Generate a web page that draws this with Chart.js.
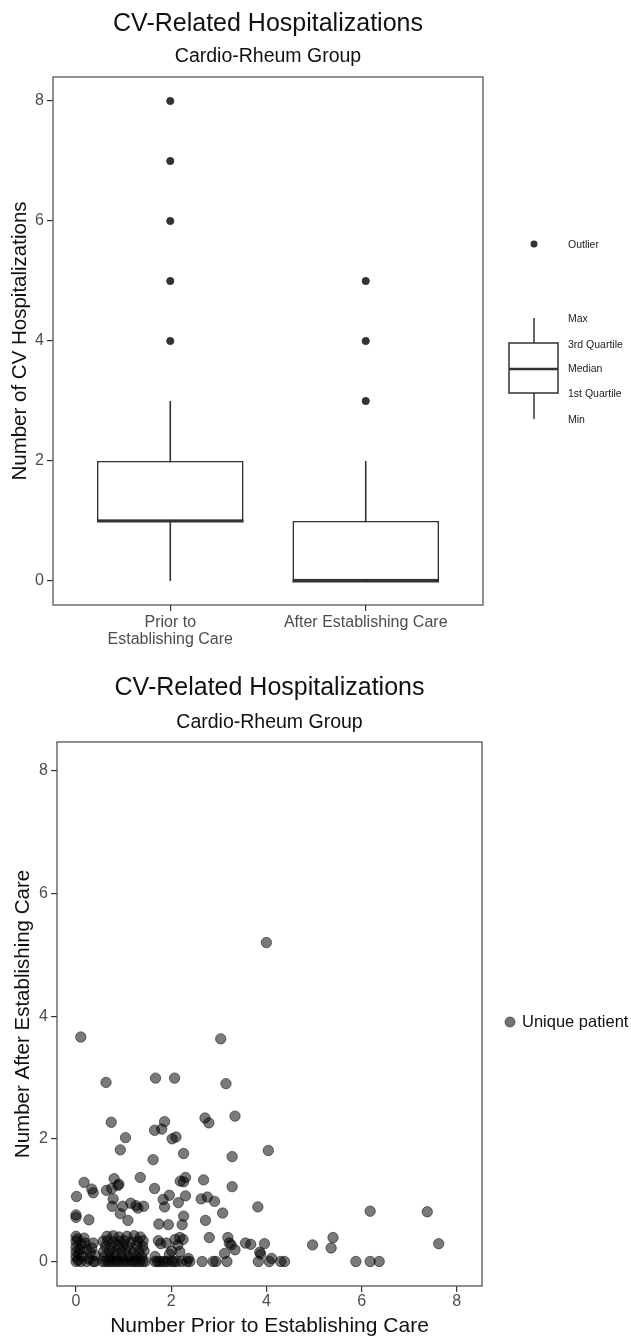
<!DOCTYPE html>
<html>
<head>
<meta charset="utf-8">
<script src="https://cdn.jsdelivr.net/npm/chart.js@4.4.1/dist/chart.umd.min.js"></script>
<style>
  body { margin: 0; background: #fff; }
  canvas { display: block; }
</style>
</head>
<body>
<canvas id="boxChart" width="631" height="650"></canvas>
<canvas id="scatterChart" width="631" height="687"></canvas>
<script>
/* CV-related hospitalizations, box plot + scatter */
const groups = [['Prior to', 'Establishing Care'], 'After Establishing Care'];
const boxMin = [0, 0];
const boxQ1 = [1, 0];
const boxMedian = [1, 0];
const boxQ3 = [2, 1];
const boxMax = [3, 2];
const outlierGroup = [1, 1, 1, 1, 1, 2, 2, 2];
const outlierValue = [4, 5, 6, 7, 8, 3, 4, 5];
const yTicks = [0, 2, 4, 6, 8];

// jittered counts per patient
const priorCounts = [
  4.0, 0.1, 3.04, 0.63, 1.67, 2.07, 3.15, 0.74, 1.86, 1.65,
  1.8, 2.71, 2.79, 3.34, 1.04, 0.93, 2.02, 2.1, 2.26, 1.62,
  3.28, 4.04, 0.17, 0.33, 0.36, 0.01, 0.8, 0.9, 0.88, 0.64,
  0.75, 0.78, 0.76, 0.98, 1.15, 0.93, 1.26, 1.3, 1.42, 1.09,
  1.35, 1.65, 1.83, 1.96, 1.86, 2.15, 2.3, 2.19, 2.3, 2.26,
  1.74, 1.94, 2.23, 2.26, 2.68, 2.63, 2.76, 2.91, 2.72, 3.08,
  3.28, 3.82, 0.0, 0.0, 0.27, 6.18, 7.38,
  2.8, 3.19, 3.22, 3.26, 3.34, 3.12, 3.56, 3.67, 3.96, 3.86,
  3.88, 4.11, 3.83, 4.06, 4.3, 4.38, 2.65, 2.88, 2.94, 3.17,
  4.97, 5.4, 5.36, 7.62, 5.88, 6.18, 6.37,
  1.73, 1.78, 1.9, 2.08, 2.18, 2.25, 2.01, 2.18, 1.66, 2.36,
  1.66, 1.71, 1.76, 1.82, 1.87, 1.93, 2.01, 2.06, 2.12, 2.22,
  2.33, 2.39, 1.96, 2.14,
  0.0, 0.0, 0.0, 0.0, 0.0, 0.0, 0.03, 0.04, 0.06, 0.1,
  0.12, 0.15, 0.19, 0.22, 0.22, 0.28, 0.33, 0.36, 0.36, 0.4,
  0.4, 0.3, 0.17, 0.08,
  0.56, 0.62, 0.68, 0.73, 0.8, 0.86, 0.91, 0.98, 1.04, 1.1,
  1.17, 1.22, 1.28, 1.34, 1.4, 1.45,
  0.6, 0.72, 0.84, 0.97, 1.12, 1.25, 1.38,
  0.58, 0.7, 0.81, 0.95, 1.05, 1.2, 1.32, 1.43,
  0.62, 0.75, 0.88, 0.99, 1.1, 1.27, 1.4,
  0.57, 0.67, 0.8, 0.92, 1.02, 1.16, 1.3, 1.41,
  0.65, 0.78, 0.9, 1.07, 1.22, 1.35
];
const afterCounts = [
  5.2, 3.66, 3.63, 2.92, 2.99, 2.99, 2.9, 2.27, 2.28, 2.14,
  2.16, 2.34, 2.26, 2.37, 2.02, 1.82, 2.0, 2.03, 1.76, 1.66,
  1.71, 1.81, 1.29, 1.18, 1.12, 1.06, 1.35, 1.26, 1.24, 1.16,
  1.19, 1.02, 0.9, 0.9, 0.95, 0.78, 0.91, 0.87, 0.9, 0.67,
  1.37, 1.19, 1.01, 1.08, 0.89, 0.96, 1.07, 1.31, 1.37, 1.3,
  0.61, 0.6, 0.6, 0.74, 1.33, 1.02, 1.05, 0.98, 0.67, 0.79,
  1.22, 0.89, 0.72, 0.76, 0.68, 0.82, 0.81,
  0.39, 0.39, 0.3, 0.27, 0.19, 0.13, 0.3, 0.28, 0.29, 0.15,
  0.12, 0.05, 0.0, 0.0, 0.0, 0.0, 0.0, 0.0, 0.0, 0.0,
  0.27, 0.39, 0.22, 0.29, 0.0, 0.0, 0.0,
  0.34, 0.29, 0.3, 0.36, 0.39, 0.36, 0.17, 0.16, 0.08, 0.05,
  0.0, 0.0, 0.0, 0.0, 0.0, 0.0, 0.0, 0.0, 0.0, 0.0,
  0.0, 0.0, 0.12, 0.27,
  0.0, 0.08, 0.16, 0.24, 0.33, 0.41, 0.37, 0.02, 0.12, 0.0,
  0.28, 0.08, 0.3, 0.0, 0.2, 0.04, 0.22, 0.3, 0.0, 0.0,
  0.1, 0.14, 0.38, 0.2,
  0.0, 0.0, 0.0, 0.0, 0.0, 0.0, 0.0, 0.0, 0.0, 0.0,
  0.0, 0.0, 0.0, 0.0, 0.0, 0.0,
  0.08, 0.07, 0.09, 0.08, 0.07, 0.09, 0.08,
  0.16, 0.17, 0.15, 0.16, 0.17, 0.15, 0.16, 0.17,
  0.25, 0.24, 0.26, 0.25, 0.24, 0.26, 0.25,
  0.33, 0.34, 0.32, 0.33, 0.34, 0.32, 0.33, 0.34,
  0.41, 0.42, 0.4, 0.41, 0.42, 0.4
];
const xTicks = [0, 2, 4, 6, 8];

Chart.defaults.font.family = "'Liberation Sans', Arial, sans-serif";
Chart.defaults.color = '#4d4d4d';
Chart.defaults.animation = false;

const INK = '#333333';
const TITLE_INK = '#111111';

const panelBorder = {
  id: 'panelBorder',
  afterDatasetsDraw(chart) {
    const { ctx, chartArea: a } = chart;
    ctx.save();
    ctx.strokeStyle = '#555';
    ctx.lineWidth = 1.3;
    ctx.strokeRect(a.left, a.top, a.right - a.left, a.bottom - a.top);
    ctx.restore();
  }
};

// whiskers under the boxes, medians on top
const boxExtras = {
  id: 'boxExtras',
  beforeDatasetsDraw(chart) {
    const { ctx, scales: { x, y } } = chart;
    ctx.save();
    ctx.strokeStyle = INK;
    ctx.lineWidth = 1.6;
    boxMin.forEach((lo, i) => {
      const px = x.getPixelForValue(i + 1);
      ctx.beginPath();
      ctx.moveTo(px, y.getPixelForValue(lo));
      ctx.lineTo(px, y.getPixelForValue(boxMax[i]));
      ctx.stroke();
    });
    ctx.restore();
  },
  afterDatasetsDraw(chart) {
    const { ctx, scales: { x, y } } = chart;
    const bars = chart.getDatasetMeta(0).data;
    ctx.save();
    ctx.strokeStyle = INK;
    ctx.lineWidth = 2.8;
    boxMedian.forEach((m, i) => {
      const px = x.getPixelForValue(i + 1), half = bars[i].width / 2;
      const py = y.getPixelForValue(m);
      ctx.beginPath();
      ctx.moveTo(px - half, py);
      ctx.lineTo(px + half, py);
      ctx.stroke();
    });
    ctx.restore();
  }
};

// the key on the right of the box plot
const boxKey = {
  id: 'boxKey',
  afterDraw(chart) {
    const ctx = chart.ctx;
    ctx.save();
    ctx.fillStyle = INK;
    ctx.beginPath();
    ctx.arc(534, 244, 3.5, 0, Math.PI * 2);
    ctx.fill();
    ctx.strokeStyle = INK;
    ctx.lineWidth = 1.5;
    ctx.beginPath();
    ctx.moveTo(534, 318); ctx.lineTo(534, 419);
    ctx.stroke();
    ctx.fillStyle = '#fff';
    ctx.fillRect(509, 343, 49, 50);
    ctx.strokeRect(509, 343, 49, 50);
    ctx.lineWidth = 2.6;
    ctx.beginPath();
    ctx.moveTo(509, 369); ctx.lineTo(558, 369);
    ctx.stroke();
    ctx.fillStyle = '#222';
    ctx.font = "10.5px 'Liberation Sans', Arial, sans-serif";
    ctx.textBaseline = 'middle';
    ctx.fillText('Outlier', 568, 245);
    [['Max', 319], ['3rd Quartile', 345], ['Median', 369], ['1st Quartile', 394], ['Min', 420]]
      .forEach(([t, yy]) => ctx.fillText(t, 568, yy));
    ctx.restore();
  }
};

const pointKey = {
  id: 'pointKey',
  afterDraw(chart) {
    const ctx = chart.ctx;
    ctx.save();
    ctx.fillStyle = 'rgba(0,0,0,0.55)';
    ctx.strokeStyle = 'rgba(0,0,0,0.5)';
    ctx.beginPath();
    ctx.arc(510, 372, 5, 0, Math.PI * 2);
    ctx.fill();
    ctx.stroke();
    ctx.fillStyle = TITLE_INK;
    ctx.font = "16.5px 'Liberation Sans', Arial, sans-serif";
    ctx.textBaseline = 'middle';
    ctx.fillText('Unique patient', 522, 372);
    ctx.restore();
  }
};

function tickGrid() {
  return { display: true, offset: false, drawOnChartArea: false, drawTicks: true, tickLength: 6, color: INK, lineWidth: 1.2 };
}

const tickFont = { size: 16, lineHeight: 1.08 };

new Chart(document.getElementById('boxChart'), {
  type: 'bar',
  data: {
    datasets: [{
      type: 'bar',
      data: boxQ1.map((q1, i) => ({ x: i + 1, y: [q1, boxQ3[i]] })),
      backgroundColor: '#fff',
      borderColor: INK,
      borderWidth: 1.6,
      borderSkipped: false,
      categoryPercentage: 1,
      barPercentage: 0.75
    }, {
      type: 'scatter',
      data: outlierValue.map((v, i) => ({ x: outlierGroup[i], y: v })),
      backgroundColor: INK,
      borderColor: INK,
      pointRadius: 3.6
    }]
  },
  options: {
    responsive: false,
    layout: { padding: { left: 0, right: 148, top: 0, bottom: 0 } },
    plugins: {
      legend: { display: false },
      tooltip: { enabled: false },
      title: {
        display: true, text: 'CV-Related Hospitalizations', fullSize: false, color: TITLE_INK,
        font: { size: 25, weight: 'normal' }, padding: { top: 9, bottom: 0 }
      },
      subtitle: {
        display: true, text: 'Cardio-Rheum Group', fullSize: false, color: TITLE_INK,
        font: { size: 19.5, weight: 'normal' }, padding: { top: 5.5, bottom: 9.1 }
      }
    },
    scales: {
      x: {
        type: 'linear', min: 0.4, max: 2.6, offset: false,
        grid: tickGrid(), border: { display: false },
        afterBuildTicks: s => { s.ticks = groups.map((g, i) => ({ value: i + 1 })); },
        afterFit: s => { s.height = 45; },
        ticks: { padding: 3, font: tickFont, callback: v => groups[v - 1], maxRotation: 0 }
      },
      y: {
        min: -0.4, max: 8.4,
        grid: tickGrid(), border: { display: false },
        afterBuildTicks: s => { s.ticks = yTicks.map(v => ({ value: v })); },
        afterFit: s => { s.width = 53; },
        ticks: { padding: 3, font: tickFont },
        title: {
          display: true, text: 'Number of CV Hospitalizations', color: TITLE_INK,
          font: { size: 20.5 }, padding: { top: 8, bottom: 0 }
        }
      }
    }
  },
  plugins: [boxExtras, panelBorder, boxKey]
});

new Chart(document.getElementById('scatterChart'), {
  type: 'scatter',
  data: {
    datasets: [{
      label: 'Unique patient',
      data: priorCounts.map((x, i) => ({ x, y: afterCounts[i] })),
      backgroundColor: 'rgba(0,0,0,0.52)',
      borderColor: 'rgba(0,0,0,0.5)',
      borderWidth: 1,
      pointRadius: 5.2
    }]
  },
  options: {
    responsive: false,
    layout: { padding: { left: 0, right: 149, top: 0, bottom: 0 } },
    plugins: {
      legend: { display: false },
      tooltip: { enabled: false },
      title: {
        display: true, text: 'CV-Related Hospitalizations', fullSize: false, color: TITLE_INK,
        font: { size: 25, weight: 'normal' }, padding: { top: 23, bottom: 0 }
      },
      subtitle: {
        display: true, text: 'Cardio-Rheum Group', fullSize: false, color: TITLE_INK,
        font: { size: 19.5, weight: 'normal' }, padding: { top: 7.5, bottom: 8.1 }
      }
    },
    scales: {
      x: {
        type: 'linear', min: -0.4, max: 8.53,
        grid: tickGrid(), border: { display: false },
        afterBuildTicks: s => { s.ticks = xTicks.map(v => ({ value: v })); },
        afterFit: s => { s.height = 51; },
        ticks: { padding: 1, font: tickFont },
        title: {
          display: true, text: 'Number Prior to Establishing Care', color: TITLE_INK,
          font: { size: 21, lineHeight: 1 }, padding: { top: 0, bottom: 0 }
        }
      },
      y: {
        min: -0.4, max: 8.47,
        grid: tickGrid(), border: { display: false },
        afterBuildTicks: s => { s.ticks = yTicks.map(v => ({ value: v })); },
        afterFit: s => { s.width = 57; },
        ticks: { padding: 3, font: tickFont },
        title: {
          display: true, text: 'Number After Establishing Care', color: TITLE_INK,
          font: { size: 20.5 }, padding: { top: 11, bottom: 0 }
        }
      }
    }
  },
  plugins: [panelBorder, pointKey]
});
</script>
</body>
</html>
